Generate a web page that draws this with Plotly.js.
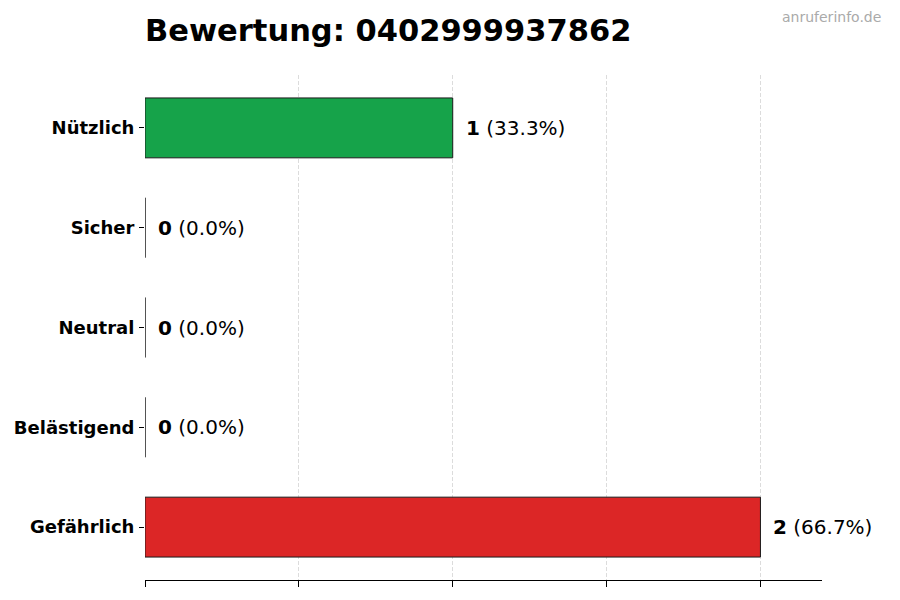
<!DOCTYPE html>
<html>
<head>
<meta charset="utf-8">
<script src="https://cdn.plot.ly/plotly-3.0.1.min.js"></script>
<style>html,body{margin:0;padding:0;background:#fff}#chart{width:900px;height:600px}</style>
</head>
<body>
<div id="chart"></div>
<script>
const categories = ["Nützlich", "Sicher", "Neutral", "Belästigend", "Gefährlich"];
const counts = [1, 0, 0, 0, 2];
const percents = [33.3, 0.0, 0.0, 0.0, 66.7];
const colors = ["#16a34a", "#16a34a", "#6b7280", "#f59e0b", "#dc2626"];
const titleText = "Bewertung: 0402999937862";
const watermark = "anruferinfo.de";

const trace = {
  type: "bar",
  orientation: "h",
  y: categories,
  x: counts,
  width: 0.6,
  marker: { color: colors, line: { color: "#1a1a1a", width: 1 } },
  hoverinfo: "skip"
};

const annotations = categories.map((c, i) => ({
  x: counts[i], y: c, xref: "x", yref: "y",
  text: "<b>" + counts[i] + "</b> (" + percents[i].toFixed(1) + "%)",
  showarrow: false, xanchor: "left", yanchor: "middle", xshift: 11,
  font: { family: "DejaVu Sans", size: 20, color: "#000" }
}));
annotations.push({
  text: watermark, xref: "paper", yref: "paper", x: 1.09, y: 1.115,
  xanchor: "right", yanchor: "middle", showarrow: false,
  font: { family: "DejaVu Sans", size: 14, color: "#aaaaaa" }
});

const layout = {
  width: 900, height: 600,
  margin: { l: 145, r: 78, t: 75, b: 20 },
  paper_bgcolor: "#fff", plot_bgcolor: "#fff",
  showlegend: false,
  title: {
    text: "<b>" + titleText + "</b>",
    x: 145 / 900, xanchor: "left", xref: "container",
    y: 1 - 30 / 600, yanchor: "middle", yref: "container",
    font: { family: "DejaVu Sans", size: 30.5, color: "#000" }
  },
  xaxis: {
    range: [0, 2.2], dtick: 0.5, tick0: 0,
    showgrid: true, gridcolor: "#dcdcdc", griddash: "4px,2px", gridwidth: 1,
    zeroline: false, showline: true, linecolor: "#000", linewidth: 1,
    ticks: "outside", ticklen: 6, tickcolor: "#000", showticklabels: false
  },
  yaxis: {
    type: "category", categoryorder: "array", categoryarray: categories,
    range: [4.53, -0.53],
    showgrid: false, zeroline: false, showline: false,
    ticks: "outside", ticklen: 5, tickcolor: "#000",
    tickfont: { family: "DejaVu Sans", size: 18, color: "#000", weight: "bold" },
    ticklabelstandoff: 1
  },
  annotations: annotations
};

Plotly.newPlot("chart", [trace], layout, { displayModeBar: false, staticPlot: true });
</script>
</body>
</html>
